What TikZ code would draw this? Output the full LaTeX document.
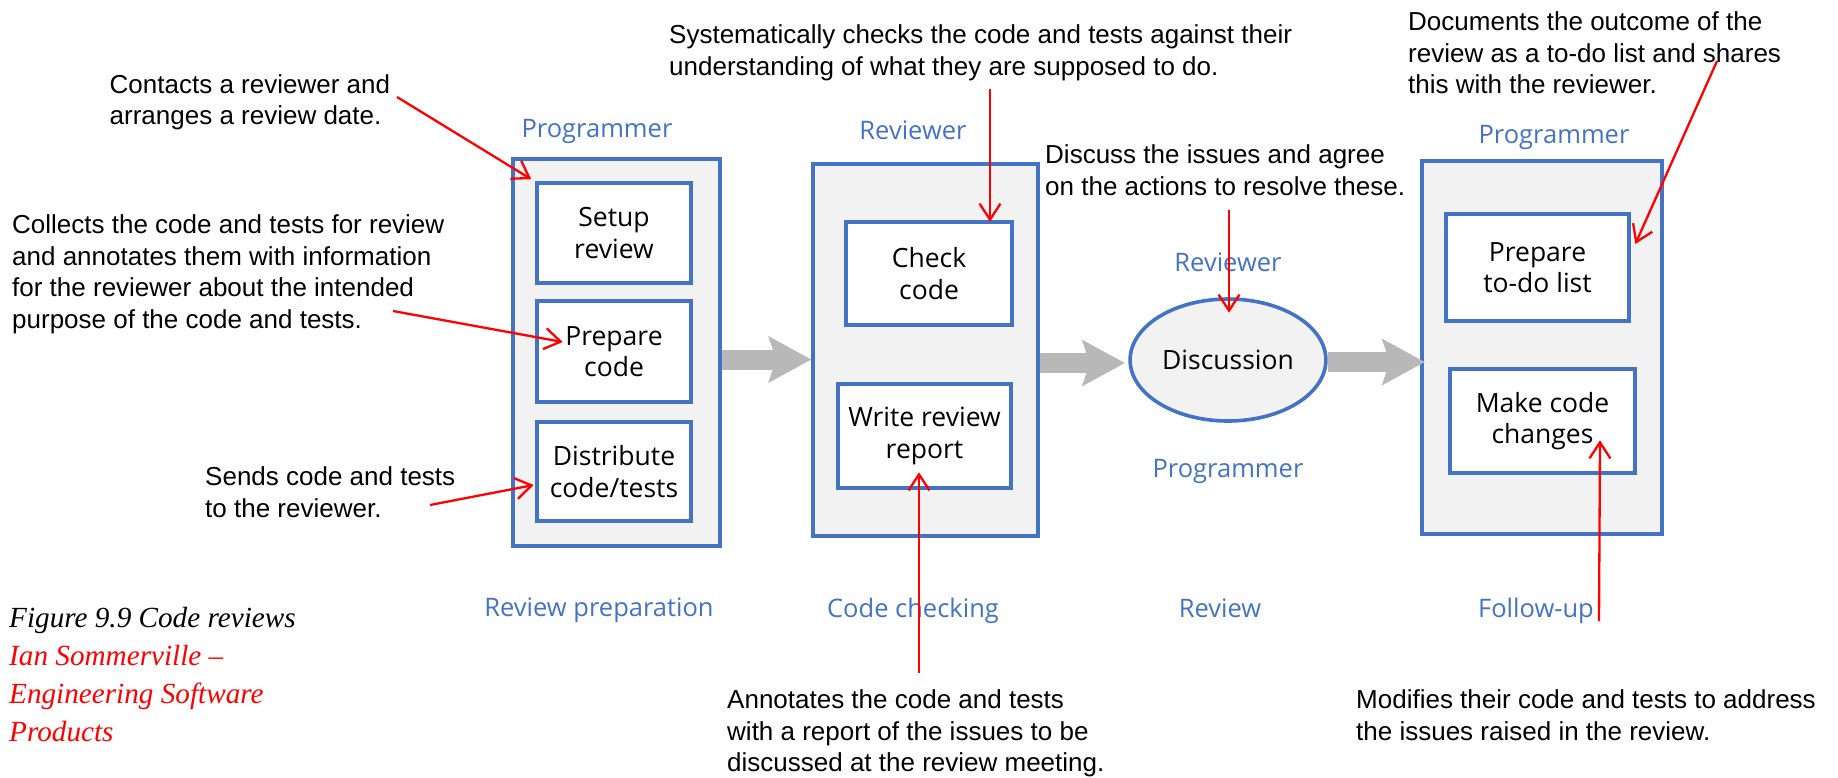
\documentclass[tikz,border=0pt]{standalone}
\usepackage{fontspec}
\setmainfont{Liberation Sans}
\newfontfamily\boxfont{Open Sans}
\newfontfamily\capfont{Liberation Serif}
\usepackage{tikz}
\usetikzlibrary{calc,arrows.meta,shapes.geometric}
\definecolor{laneblue}{RGB}{68,114,196}
\definecolor{lanefill}{RGB}{242,242,242}
\definecolor{flowgray}{RGB}{184,184,184}

\begin{document}
\begin{tikzpicture}[x=1pt,y=-1pt,
	lane/.style={draw=laneblue,line width=3.6pt,fill=lanefill},
	task/.style={draw=laneblue,line width=3.6pt,fill=white,align=center,font=\boxfont\fontsize{26.5}{31.5}\selectfont},
	role/.style={anchor=base,text=laneblue,font=\boxfont\fontsize{25.5}{30}\selectfont},
	note/.style={anchor=north west,align=left,inner sep=0pt,font=\fontsize{26}{31.7}\selectfont},
	hint/.style={draw=red,line width=2.3pt,-{Straight Barb[length=16pt,width=21pt]}},
	flow/.style={draw=flowgray,line width=20pt,-{Stealth[length=43pt,width=47pt,inset=8pt,line width=0pt]}}]
	\useasboundingbox (0,0) rectangle (1838,777);

	\node[lane,minimum width=207,minimum height=387] (progA) at (616.5,352.5){};
	\node[lane,minimum width=225,minimum height=372] (rev) at (925.5,350){};
	\node[lane,minimum width=240,minimum height=373] (progB) at (1542,347.5){};

	\node[task,minimum width=154,minimum height=100] (setup) at (614,233){Setup\\review};
	\node[task,minimum width=154,minimum height=101] (prep) at (614,351.5){Prepare\\code};
	\node[task,minimum width=154,minimum height=99] (dist) at (614,471.5){Distribute\\code/tests};
	\node[task,minimum width=166,minimum height=103] (check) at (929,273.5){Check\\code};
	\node[task,minimum width=173,minimum height=104] (report) at (924.5,436){Write review\\report};
	\node[task,lane,ellipse,minimum width=180,minimum height=122] (disc) at (1228,360){Discussion};
	\node[task,minimum width=183,minimum height=107] (todo) at (1537.5,267.5){Prepare\\to-do list};
	\node[task,minimum width=185,minimum height=104] (change) at (1542.5,421){Make code\\changes};

	\draw[flow] ($(progA.east)+(0,7)$) -- ($(rev.west)+(0,9.5)$);
	\draw[flow] ($(rev.east)+(0,13)$) -- ($(disc.west)+(-3.5,3)$);
	\draw[flow] ($(disc.east)+(0,2)$) -- ($(progB.west)+(4.5,14.5)$);

	\node[role] (roleA) at (597,137){Programmer};
	\node[role] (roleB) at (913,139){Reviewer};
	\node[role] (roleC) at (1228,271){Reviewer};
	\node[role] (roleD) at (1228,477){Programmer};
	\node[role] (roleE) at (1554,143){Programmer};
	\node[role] (phaseA) at (599,616){Review preparation};
	\node[role] (phaseB) at (913,617){Code checking};
	\node[role] (phaseC) at (1220,617){Review};
	\node[role] (phaseD) at (1536,617){Follow-up};

	\node[note] (noteA) at (109.5,74){Contacts a reviewer and\\arranges a review date.};
	\node[note] (noteB) at (12,214.4){Collects the code and tests for review\\and annotates them with information\\for the reviewer about the intended\\purpose of the code and tests.};
	\node[note] (noteC) at (205,466.4){Sends code and tests\\to the reviewer.};
	\node[note] (noteD) at (669,24.4){Systematically checks the code and tests against their\\understanding of what they are supposed to do.};
	\node[note] (noteE) at (1045,144.4){Discuss the issues and agree\\on the actions to resolve these.};
	\node[note] (noteF) at (1408,11.4){Documents the outcome of the\\review as a to-do list and shares\\this with the reviewer.};
	\node[note] (noteG) at (727,689.4){Annotates the code and tests\\with a report of the issues to be\\discussed at the review meeting.};
	\node[note] (noteH) at (1356,689.4){Modifies their code and tests to address\\the issues raised in the review.};

	\coordinate (tailA) at (397,97);
	\coordinate (tailB) at (393,311);
	\coordinate (tailC) at (430,505);
	\coordinate (tailD) at (990,89);
	\coordinate (tailE) at (1229,210);
	\coordinate (tailF) at (1717,61);
	\coordinate (tailG) at (919,673);
	\coordinate (tailH) at (1599,621);
	\draw[hint] (tailA) -- ($(setup.north west)+(-4,-2)$);
	\draw[hint] (tailB) -- ($(prep.west)+(27.5,-9.5)$);
	\draw[hint] (tailC) -- ($(dist.west)+(-1.5,13.5)$);
	\draw[hint] (tailD) -- ($(check.north)+(61,1.5)$);
	\draw[hint] (tailE) -- ($(disc.north)+(1,15.5)$);
	\draw[hint] (tailF) -- ($(todo.east)+(4.5,-23.5)$);
	\draw[hint] (tailG) -- ($(report.south)+(-5.5,-17.5)$);
	\draw[hint] (tailH) -- ($(change.south)+(57.5,-34.5)$);

	\node[anchor=north west,align=left,inner sep=0pt,font=\capfont\itshape\fontsize{29.2}{38}\selectfont] (caption) at (9,607){Figure 9.9 Code reviews\\\textcolor{red}{Ian Sommerville –}\\\textcolor{red}{Engineering Software}\\\textcolor{red}{Products}};
\end{tikzpicture}
\end{document}
